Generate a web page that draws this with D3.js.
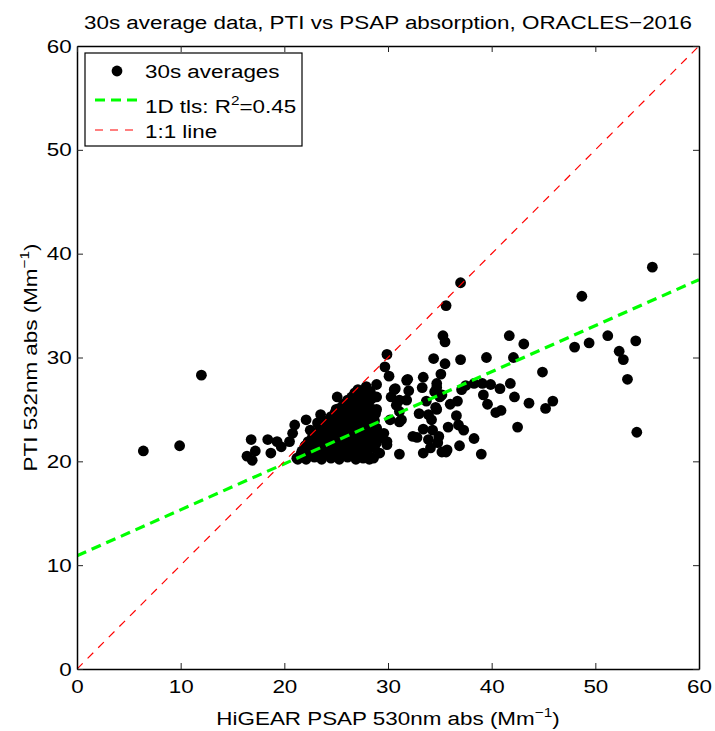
<!DOCTYPE html>
<html>
<head>
<meta charset="utf-8">
<script src="https://cdn.jsdelivr.net/npm/d3@7"></script>
<style>
  body { margin: 0; background: #fff; }
  text { font-family: "Liberation Sans", Arial, Helvetica, sans-serif; fill: #000; }
</style>
</head>
<body>
<svg id="chart" width="715" height="731"></svg>
<script>
// 30s averages: HiGEAR PSAP (x) vs PTI (y), Mm^-1
var psapAbs = [
  6.4, 9.9, 12.0, 16.8, 17.2, 16.4, 16.9, 18.4, 19.3, 19.7, 18.7, 21.0, 20.8, 20.5,
  22.1, 22.5, 23.5, 23.2, 25.1, 25.0, 27.1, 27.9, 28.9, 21.3,
  29.9, 29.7, 30.1, 31.9, 33.4, 35.1, 33.3, 34.7, 34.5, 32.0, 30.6, 30.3, 28.9, 31.8,
  33.7, 35.2, 31.1, 33.0, 34.7, 33.9, 34.2, 33.4, 34.9, 32.8, 33.9, 34.1, 33.4, 35.2,
  35.6, 39.0, 31.1, 29.2, 28.6, 29.6, 29.9, 28.9, 30.2, 31.3, 28.9, 30.8, 31.8, 30.7,
  31.1, 32.4, 31.1, 29.9,
  55.5, 48.7, 37.0, 35.6, 35.3, 35.5, 41.7, 43.1, 34.4, 37.0, 35.5, 39.5, 42.1, 44.9,
  48.0, 49.4, 51.2, 53.9, 52.3, 52.7, 53.1, 54.0, 42.5, 43.6, 45.2, 45.9, 41.8, 42.2,
  40.8, 39.9, 39.1, 38.3, 37.5, 37.1, 39.2, 39.6, 40.4, 40.9, 36.7, 36.0, 36.6, 36.8,
  37.3, 38.3, 36.9, 35.8, 34.7, 35.0, 34.6, 34.3, 34.8, 35.7,
  // dense cluster around 21-29
  21.2, 22.1, 22.9, 23.6, 24.5, 25.3, 26.1, 26.9, 27.6, 28.2,
  21.6, 22.5, 23.3, 24.0, 24.9, 25.7, 26.5, 27.3, 28.0,
  21.7, 22.5, 23.2, 24.1, 24.9, 25.6, 26.5, 27.3, 28.0, 28.7,
  22.0, 22.8, 23.6, 24.5, 25.3, 26.0, 26.9, 27.7, 28.4,
  22.3, 23.1, 24.0, 24.8, 25.7, 26.4, 27.2, 28.1, 28.9,
  22.7, 23.5, 24.4, 25.2, 26.0, 26.8, 27.6, 28.5, 29.1,
  23.0, 23.9, 24.6, 25.5, 26.2, 27.1, 27.8, 28.6, 29.3,
  23.4, 24.2, 25.0, 25.8, 26.6, 27.3, 28.1, 28.9,
  23.7, 24.5, 25.2, 26.1, 26.8, 27.6, 28.4,
  24.1, 24.9, 25.7, 26.5, 27.2, 28.0, 28.7,
  24.5, 25.3, 26.0, 26.9, 27.6, 28.4,
  24.9, 25.7, 26.5, 27.2, 28.0, 28.8,
  25.3, 26.1, 26.8, 27.7, 28.5,
  25.7, 26.5, 27.3, 28.1,
  26.1, 26.9, 27.6, 28.4,
  26.5, 27.2, 28.0,
  26.8, 27.5, 28.3
];
var ptiAbs = [
  21.0, 21.5, 28.3, 22.1, 21.0, 20.5, 20.1, 22.1, 21.9, 21.4, 20.8, 23.5, 22.7, 21.9,
  24.0, 23.0, 24.5, 23.7, 26.2, 25.0, 26.9, 27.2, 27.4, 20.2,
  30.3, 29.1, 28.2, 27.9, 28.1, 28.4, 27.1, 27.5, 26.7, 26.8, 26.9, 26.2, 26.2, 25.9,
  25.8, 26.4, 24.8, 24.6, 25.0, 24.5, 24.0, 23.1, 22.4, 22.3, 22.1, 21.3, 20.8, 20.9,
  20.9, 20.7, 20.7, 20.8, 20.3, 22.7, 21.9, 23.0, 24.0, 24.0, 25.0, 25.4, 27.8, 27.0,
  25.9, 22.4, 23.8, 21.6,
  38.7, 35.9, 37.2, 35.0, 32.1, 31.5, 32.1, 31.3, 29.9, 29.8, 29.4, 30.0, 30.0, 28.6,
  31.0, 31.4, 32.1, 31.6, 30.6, 29.8, 27.9, 22.8, 23.3, 25.6, 25.1, 25.8, 27.5, 26.2,
  27.0, 27.4, 27.5, 27.5, 27.3, 26.9, 26.4, 25.5, 24.7, 24.9, 25.8, 25.5, 24.4, 23.5,
  23.0, 22.2, 21.5, 23.3, 27.1, 26.2, 25.2, 23.0, 21.8, 21.1,
  // dense cluster around 21-29
  20.3, 20.2, 20.4, 20.2, 20.3, 20.2, 20.4, 20.2, 20.3, 20.2,
  20.7, 20.6, 20.8, 20.7, 20.6, 20.8, 20.7, 20.6, 20.7,
  21.0, 21.2, 21.0, 21.2, 21.0, 21.3, 21.0, 21.2, 21.0, 21.3,
  21.5, 21.6, 21.4, 21.5, 21.6, 21.4, 21.5, 21.6, 21.4,
  21.9, 22.0, 21.8, 22.0, 21.8, 22.1, 21.9, 22.0, 21.8,
  22.3, 22.4, 22.2, 22.3, 22.4, 22.2, 22.3, 22.4, 22.2,
  22.7, 22.8, 22.6, 22.8, 22.6, 22.8, 22.6, 22.8, 22.5,
  23.1, 23.2, 23.0, 23.1, 23.2, 23.0, 23.1, 23.2,
  23.5, 23.6, 23.4, 23.6, 23.4, 23.6, 23.4,
  23.9, 24.0, 23.8, 23.9, 24.0, 23.8, 23.9,
  24.3, 24.4, 24.2, 24.4, 24.2, 24.4,
  24.7, 24.8, 24.6, 24.7, 24.8, 24.6,
  25.1, 25.2, 25.0, 25.2, 25.0,
  25.5, 25.4, 25.6, 25.5,
  25.9, 26.0, 25.8, 26.0,
  26.2, 26.3, 26.2,
  26.6, 26.5, 26.7
];

// fitted line (1D total least squares) and the 1:1 reference, end points
var tlsX = [0, 60], tlsY = [10.9, 37.5];
var oneX = [0, 60], oneY = [0, 60];

var xTicks = [0, 10, 20, 30, 40, 50, 60];
var yTicks = [0, 10, 20, 30, 40, 50, 60];

// set the dimensions and margins of the graph
var margin = {top: 46, right: 16, bottom: 62, left: 77},
    width = 715 - margin.left - margin.right,
    height = 731 - margin.top - margin.bottom;

var sx = 1.18; // text in the figure is drawn a bit wide

var svg = d3.select("#chart")
  .append("g")
    .attr("transform", "translate(" + margin.left + "," + margin.top + ")");

svg.append("clipPath").attr("id", "plotclip")
  .append("rect").attr("width", width).attr("height", height);

var x = d3.scaleLinear().domain([0, 60]).range([0, width]);
var y = d3.scaleLinear().domain([0, 60]).range([height, 0]);

// points
svg.append("g")
  .selectAll("circle")
  .data(psapAbs)
  .enter()
  .append("circle")
    .attr("cx", function(d) { return x(d); })
    .attr("cy", function(d, i) { return y(ptiAbs[i]); })
    .attr("r", 5.4)
    .attr("fill", "#000");

var line = d3.line()
  .x(function(d) { return x(d[0]); })
  .y(function(d) { return y(d[1]); });

svg.append("path")
  .attr("clip-path", "url(#plotclip)")
  .attr("d", line(d3.zip(tlsX, tlsY)))
  .attr("fill", "none")
  .attr("stroke", "#00ff00")
  .attr("stroke-width", 3.2)
  .attr("stroke-dasharray", "10,6");

svg.append("path")
  .attr("clip-path", "url(#plotclip)")
  .attr("d", line(d3.zip(oneX, oneY)))
  .attr("fill", "none")
  .attr("stroke", "#ff0000")
  .attr("stroke-width", 1.2)
  .attr("stroke-dasharray", "8,7");

// axes, ticks inward on all four sides
function styleAxis(g) {
  g.select(".domain").attr("stroke", "#000").attr("stroke-width", 1.5);
  g.selectAll(".tick line").attr("stroke", "#222").attr("stroke-width", 1);
  g.selectAll(".tick text")
    .style("font-size", "19px")
    .attr("fill", "#000");
}

svg.append("g")
  .attr("transform", "translate(0," + height + ")")
  .call(d3.axisBottom(x).tickValues(xTicks).tickSize(-6).tickSizeOuter(0).tickPadding(11))
  .call(styleAxis)
  .selectAll(".tick text").attr("transform", "scale(" + sx + ",1)");

svg.append("g")
  .call(d3.axisLeft(y).tickValues(yTicks).tickSize(-6).tickSizeOuter(0).tickPadding(4.5))
  .call(styleAxis)
  .selectAll(".tick text").attr("transform", "scale(" + sx + ",1)");

svg.append("g")
  .call(d3.axisTop(x).tickValues(xTicks).tickSize(-6).tickSizeOuter(0).tickFormat(""))
  .call(styleAxis);

svg.append("g")
  .attr("transform", "translate(" + width + ",0)")
  .call(d3.axisRight(y).tickValues(yTicks).tickSize(-6).tickSizeOuter(0).tickFormat(""))
  .call(styleAxis);

// labels
function wideText(px, py, rot) {
  return svg.append("text")
    .attr("transform", "translate(" + px + "," + py + ")" + (rot ? " rotate(" + rot + ")" : "") + " scale(" + sx + ",1)")
    .attr("text-anchor", "middle")
    .style("font-size", "19px");
}

wideText(width / 2, 29 - margin.top)
  .text("30s average data, PTI vs PSAP absorption, ORACLES\u22122016");

var xl = wideText(width / 2, 725 - margin.top);
xl.append("tspan").text("HiGEAR PSAP 530nm abs (Mm");
xl.append("tspan").attr("dy", -8).style("font-size", "13px").text("\u22121");
xl.append("tspan").attr("dy", 8).text(")");

var yl = wideText(37 - margin.left, height / 2, -90);
yl.append("tspan").text("PTI 532nm abs (Mm");
yl.append("tspan").attr("dy", -8).style("font-size", "13px").text("\u22121");
yl.append("tspan").attr("dy", 8).text(")");

// legend
var leg = svg.append("g").attr("transform", "translate(" + (85 - margin.left) + "," + (53 - margin.top) + ")");
leg.append("rect")
  .attr("width", 217).attr("height", 93)
  .attr("fill", "#fff").attr("stroke", "#000").attr("stroke-width", 1.2);

leg.append("circle").attr("cx", 32).attr("cy", 18).attr("r", 5.4).attr("fill", "#000");
leg.append("line").attr("x1", 10).attr("x2", 55).attr("y1", 47).attr("y2", 47)
  .attr("stroke", "#00ff00").attr("stroke-width", 3.2).attr("stroke-dasharray", "10,6");
leg.append("line").attr("x1", 10).attr("x2", 55).attr("y1", 77).attr("y2", 77)
  .attr("stroke", "#ff0000").attr("stroke-width", 1.2).attr("stroke-dasharray", "8,7");

function legText(py) {
  return leg.append("text")
    .attr("transform", "translate(60," + py + ") scale(" + sx + ",1)")
    .style("font-size", "19px");
}
legText(25).text("30s averages");
var lt = legText(60);
lt.append("tspan").text("1D tls: R");
lt.append("tspan").attr("dy", -8).style("font-size", "13px").text("2");
lt.append("tspan").attr("dy", 8).text("=0.45");
legText(85).text("1:1 line");
</script>
</body>
</html>
